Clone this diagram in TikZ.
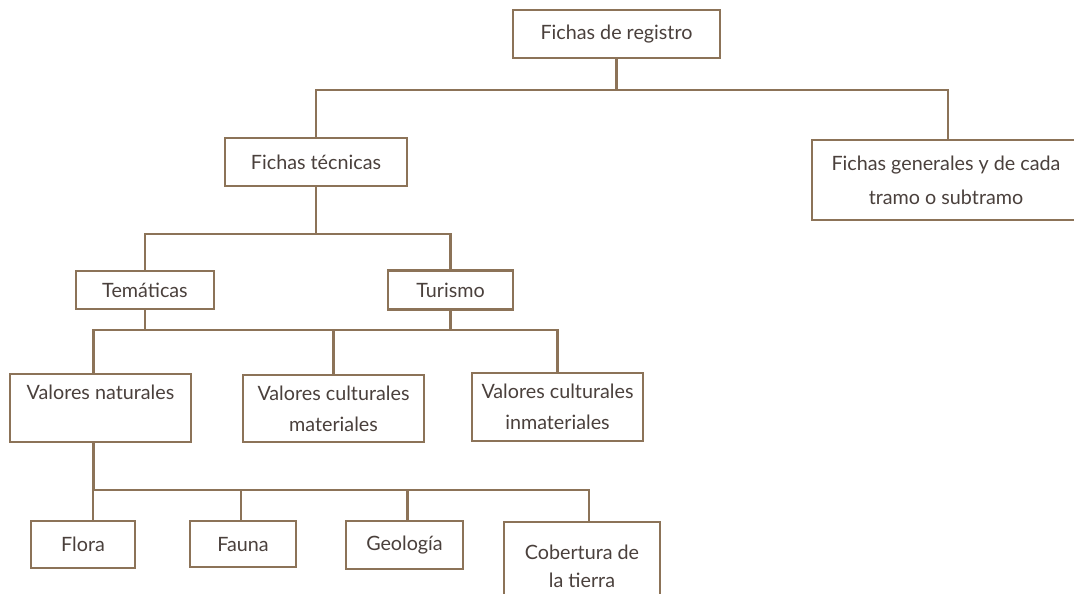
\documentclass[tikz,border=0pt]{standalone}
\usepackage{fontspec}
\setmainfont{Lato}
\definecolor{edge}{HTML}{8C7358}
\definecolor{ink}{HTML}{4A403C}
\begin{document}
\begin{tikzpicture}[x=0.75pt,y=-0.75pt,
  box/.style={draw=edge,line width=2.2pt,fill=white,inner sep=0pt,align=center,text=ink,
    font=\fontsize{14.8}{23}\selectfont},
  link/.style={draw=edge,line width=2.2pt}]
\useasboundingbox (0,0) rectangle (1074,593);
% nodes
\node[box,minimum width=155.25pt,minimum height=36pt] (reg) at (616.5,34) {Fichas de registro};
\node[box,minimum width=136.5pt,minimum height=36pt] (tec) at (316,162) {Fichas técnicas};
\node[box,minimum width=201pt,minimum height=60pt,font=\fontsize{14.8}{25.5}\selectfont] (gen) at (946,180) {Fichas generales y de cada\\tramo o subtramo};
\node[box,minimum width=103.5pt,minimum height=28.5pt] (tem) at (145,290) {Temáticas};
\node[box,minimum width=93.75pt,minimum height=29.25pt] (tur) at (450.5,290) {Turismo};
\node[box,minimum width=135.75pt,minimum height=51pt] (nat) at (100.5,408) {Valores naturales\\\mbox{}};
\node[box,minimum width=135.75pt,minimum height=50.25pt] (mat) at (333.5,408.5) {Valores culturales\\materiales};
\node[box,minimum width=128.25pt,minimum height=51pt] (inm) at (557.5,407) {Valores culturales\\inmateriales};
\node[box,minimum width=78pt,minimum height=35.25pt] (flo) at (83,544.5) {Flora};
\node[box,minimum width=79.5pt,minimum height=34.5pt] (fau) at (243,544) {Fauna};
\node[box,minimum width=87.75pt,minimum height=36pt] (geo) at (404.5,545) {Geología};
\node[box,minimum width=117pt,minimum height=66pt,font=\fontsize{14.8}{21}\selectfont] (cob) at (582,566) {Cobertura de\\la tierra};
% bus levels
\coordinate (b1) at (0,90);
\coordinate (b2) at (0,234);
\coordinate (b3) at (0,330);
\coordinate (b4) at (0,490);
% connectors
\draw[link] (reg.south) -- (reg.south |- b1);
\draw[link] (tec.north) -- (tec.north |- b1) -| ([xshift=1.5pt]gen.north);
\draw[link] (tec.south) -- (tec.south |- b2);
\draw[link] (tem.north) -- (tem.north |- b2) -| (tur.north);
\draw[link] (tem.south) -- (tem.south |- b3);
\draw[link] (tur.south) -- (tur.south |- b3);
\draw[link] ([xshift=-5.5pt]nat.north) -- ([xshift=-5.5pt]nat.north |- b3) -| (inm.north);
\draw[link] (mat.north) -- (mat.north |- b3);
\draw[link] ([xshift=-5.5pt]nat.south) -- ([xshift=-5.5pt]nat.south |- b4) -| ([xshift=5.25pt]cob.north);
\draw[link] ([xshift=7.5pt]flo.north) -- ([xshift=7.5pt]flo.north |- b4);
\draw[link] ([xshift=-1.5pt]fau.north) -- ([xshift=-1.5pt]fau.north |- b4);
\draw[link] ([xshift=2pt]geo.north) -- ([xshift=2pt]geo.north |- b4);
\end{tikzpicture}
\end{document}
